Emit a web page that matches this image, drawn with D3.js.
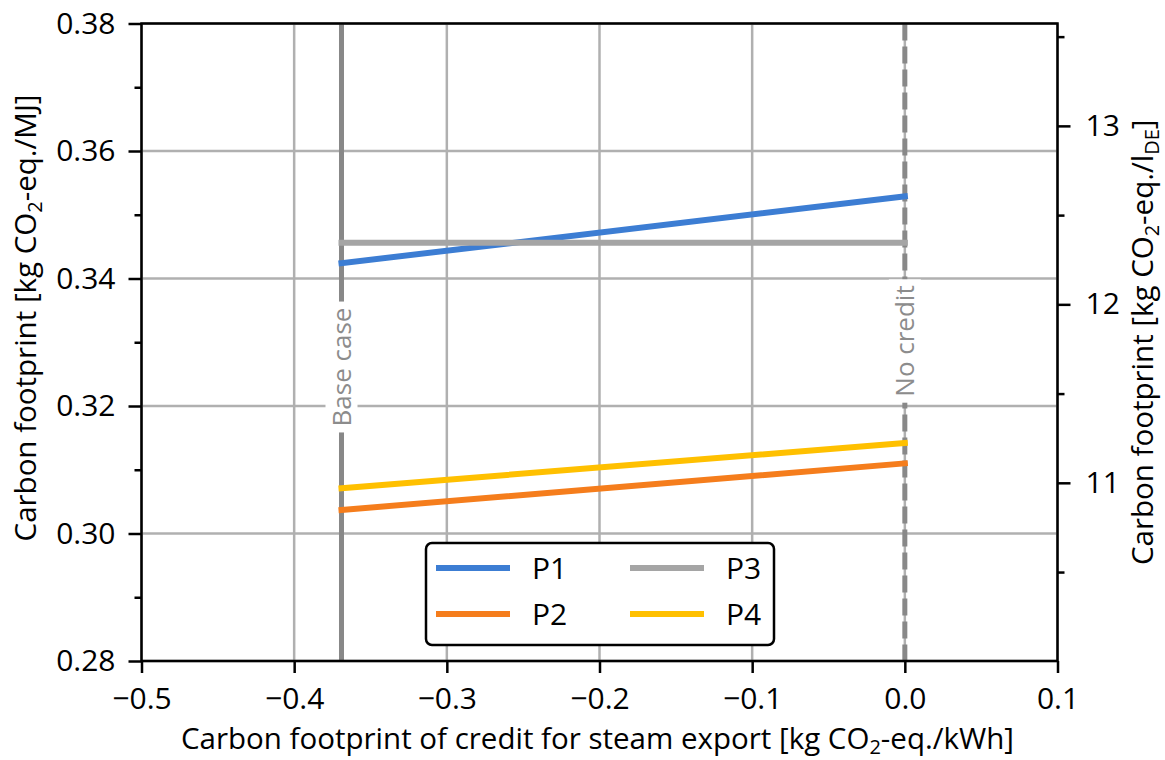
<!DOCTYPE html>
<html>
<head>
<meta charset="utf-8">
<script src="https://cdn.jsdelivr.net/npm/d3@7"></script>
<style>
  body { margin: 0; background: #fff; }
  text { font-family: "Open Sans", sans-serif; }
</style>
</head>
<body>
<svg id="chart" width="1165" height="760"></svg>
<script>
// credit for steam export [kg CO2-eq./kWh]
const creditX = [-0.369, 0.0];
const seriesNames = ["P1", "P2", "P3", "P4"];
const p1 = [0.3424, 0.3529];
const p2 = [0.3037, 0.3110];
const p3 = [0.3456, 0.3456];
const p4 = [0.3071, 0.3142];
const seriesColors = ["#3c7dd3", "#f57d1c", "#a5a5a5", "#ffc000"];
const xTicks = [-0.5, -0.4, -0.3, -0.2, -0.1, 0.0, 0.1];
const yTicks = [0.28, 0.30, 0.32, 0.34, 0.36, 0.38];
const yMinor = [0.29, 0.31, 0.33, 0.35, 0.37];
const y2Ticks = [11, 12, 13];
const y2Minor = [10.5, 11.5, 12.5, 13.5];
const mjPerLitre = 35.72;
const baseCase = -0.369, noCredit = 0.0;

const width = 1165, height = 760;
const margin = { top: 23.5, right: 107.5, bottom: 99, left: 141.5 };
const iw = width - margin.left - margin.right;
const ih = height - margin.top - margin.bottom;
const fs = 30, fsLab = 29.5, fsSub = 20;

const svg = d3.select("#chart");
const g = svg.append("g").attr("transform", `translate(${margin.left},${margin.top})`);

const x = d3.scaleLinear().domain([-0.5, 0.1]).range([0, iw]);
const y = d3.scaleLinear().domain([0.28, 0.38]).range([ih, 0]);
const y2 = d3.scaleLinear().domain([0.28 * mjPerLitre, 0.38 * mjPerLitre]).range([ih, 0]);

// grid
g.append("g").selectAll("line").data(xTicks).join("line")
  .attr("x1", d => x(d)).attr("x2", d => x(d)).attr("y1", 0).attr("y2", ih)
  .attr("stroke", "#b0b0b0").attr("stroke-width", 2.5);
g.append("g").selectAll("line").data(yTicks).join("line")
  .attr("y1", d => y(d)).attr("y2", d => y(d)).attr("x1", 0).attr("x2", iw)
  .attr("stroke", "#b0b0b0").attr("stroke-width", 2.5);

// reference lines
g.append("line")
  .attr("x1", x(baseCase)).attr("x2", x(baseCase)).attr("y1", 0).attr("y2", ih)
  .attr("stroke", "#888").attr("stroke-width", 5);
g.append("line")
  .attr("x1", x(noCredit)).attr("x2", x(noCredit)).attr("y1", 0).attr("y2", ih)
  .attr("stroke", "#888").attr("stroke-width", 5)
  .attr("stroke-dasharray", "17,6");

function vLabel(txt, xv, cy) {
  const lg = g.append("g").attr("transform", `translate(${x(xv)},${cy - margin.top}) rotate(-90)`);
  const rect = lg.append("rect").attr("fill", "#fff");
  const t = lg.append("text")
    .attr("text-anchor", "middle").attr("dy", "0.35em")
    .attr("font-size", 26).attr("fill", "#8c8c8c")
    .text(txt);
  const bb = t.node().getBBox();
  rect.attr("x", bb.x - 6).attr("y", -16).attr("width", bb.width + 12).attr("height", 32);
}
vLabel("Base case", baseCase, 367);
vLabel("No credit", noCredit, 341);

// series
const allSeries = [p1, p2, p3, p4];
const line = d3.line().x((d, i) => x(creditX[i])).y(d => y(d));
allSeries.forEach((s, k) => {
  g.append("path").datum(s)
    .attr("d", line)
    .attr("fill", "none")
    .attr("stroke", seriesColors[k])
    .attr("stroke-width", 6)
    .attr("stroke-linecap", "square");
});

// axes
function styleAxis(sel) {
  sel.select(".domain").remove();
  sel.selectAll(".tick line").attr("stroke", "#000").attr("stroke-width", 2.5);
  sel.selectAll(".tick text").attr("font-family", "Open Sans, sans-serif")
    .attr("font-size", fs).attr("fill", "#000");
}
g.append("g").attr("transform", `translate(0,${ih})`)
  .call(d3.axisBottom(x).tickValues(xTicks).tickSize(12).tickPadding(15).tickFormat(d3.format(".1f")))
  .call(styleAxis);
g.append("g")
  .call(d3.axisLeft(y).tickValues(yTicks).tickSize(13).tickPadding(13).tickFormat(d3.format(".2f")))
  .call(styleAxis);
g.append("g")
  .call(d3.axisLeft(y).tickValues(yMinor).tickSize(7).tickFormat(""))
  .call(styleAxis);
g.append("g").attr("transform", `translate(${iw},0)`)
  .call(d3.axisRight(y2).tickValues(y2Ticks).tickSize(13).tickPadding(15).tickFormat(d3.format("d")))
  .call(styleAxis);
g.append("g").attr("transform", `translate(${iw},0)`)
  .call(d3.axisRight(y2).tickValues(y2Minor).tickSize(7).tickFormat(""))
  .call(styleAxis);

// frame
g.append("rect").attr("width", iw).attr("height", ih)
  .attr("fill", "none").attr("stroke", "#000").attr("stroke-width", 2.5);

// axis titles
const xt = svg.append("text")
  .attr("x", margin.left + iw / 2 - 2).attr("y", 749)
  .attr("text-anchor", "middle").attr("font-size", fsLab);
xt.append("tspan").text("Carbon footprint of credit for steam export [kg CO");
xt.append("tspan").attr("font-size", fsSub).attr("dy", 5).text("2");
xt.append("tspan").attr("dy", -5).text("-eq./kWh]");

const yt = svg.append("text")
  .attr("transform", `translate(36,318) rotate(-90)`)
  .attr("text-anchor", "middle").attr("font-size", fsLab);
yt.append("tspan").text("Carbon footprint [kg CO");
yt.append("tspan").attr("font-size", fsSub).attr("dy", 6).text("2");
yt.append("tspan").attr("dy", -6).text("-eq./MJ]");

const y2t = svg.append("text")
  .attr("transform", `translate(1153,${margin.top + ih / 2}) rotate(-90)`)
  .attr("text-anchor", "middle").attr("font-size", fsLab);
y2t.append("tspan").text("Carbon footprint [kg CO");
y2t.append("tspan").attr("font-size", fsSub).attr("dy", 6).text("2");
y2t.append("tspan").attr("dy", -6).text("-eq./l");
y2t.append("tspan").attr("font-size", fsSub).attr("dy", 6).text("DE");
y2t.append("tspan").attr("dy", -6).text("]");

// legend
const lgd = svg.append("g").attr("transform", "translate(426,543)");
lgd.append("rect").attr("width", 348).attr("height", 102).attr("rx", 6)
  .attr("fill", "#fff").attr("stroke", "#000").attr("stroke-width", 2.5);
seriesNames.forEach((name, k) => {
  const col = Math.floor(k / 2), row = k % 2;
  const ex = 10 + col * 194, ey = 25 + row * 46;
  lgd.append("line").attr("x1", ex).attr("x2", ex + 74).attr("y1", ey).attr("y2", ey)
    .attr("stroke", seriesColors[k]).attr("stroke-width", 6);
  lgd.append("text").attr("x", ex + 96).attr("y", ey).attr("dy", "0.36em")
    .attr("font-size", fs).text(name);
});
</script>
</body>
</html>
